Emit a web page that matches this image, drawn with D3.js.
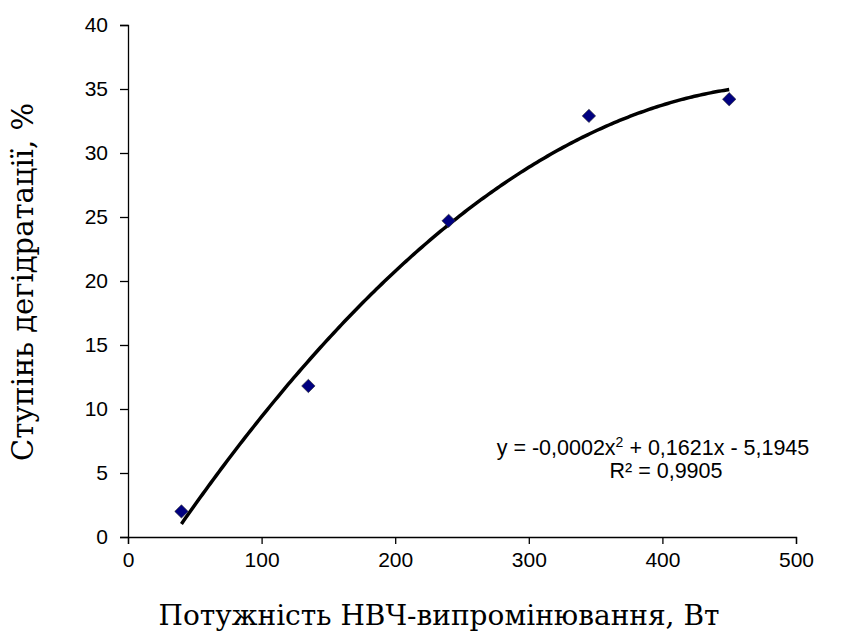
<!DOCTYPE html>
<html>
<head>
<meta charset="utf-8">
<script src="https://cdn.jsdelivr.net/npm/d3@7"></script>
<style>
  body { margin: 0; background: #fff; }
  svg { display: block; }
  .sans { font-family: "Liberation Sans", Arial, sans-serif; }
  .serif { font-family: "DejaVu Serif", serif; }
</style>
</head>
<body>
<div id="chart"></div>
<script>
// measured points
const power = [40, 135, 240, 345, 450];
const dehydration = [2.0, 11.8, 24.7, 32.9, 34.2];
const xTicks = [0, 100, 200, 300, 400, 500];
const yTicks = [0, 5, 10, 15, 20, 25, 30, 35, 40];
const xTitle = "Потужність НВЧ-випромінювання, Вт";
const yTitle = "Ступінь дегідратації, %";
const eqLine = ["y = -0,0002x", "2", " + 0,1621x - 5,1945"];
const r2Line = "R² = 0,9905";

const width = 846, height = 637;
const x = d3.scaleLinear().domain([0, 500]).range([128, 796]);
const y = d3.scaleLinear().domain([0, 40]).range([537, 25]);

// quadratic least squares, same as the excel trendline
function polyFit(xs, ys) {
    const n = xs.length;
    let s = [0, 0, 0, 0, 0], t = [0, 0, 0];
    for (let i = 0; i < n; i++) {
        for (let k = 0; k < 5; k++) s[k] += Math.pow(xs[i], k);
        for (let k = 0; k < 3; k++) t[k] += ys[i] * Math.pow(xs[i], k);
    }
    const m = [[s[0], s[1], s[2], t[0]], [s[1], s[2], s[3], t[1]], [s[2], s[3], s[4], t[2]]];
    for (let c = 0; c < 3; c++) {
        for (let r = c + 1; r < 3; r++) {
            const f = m[r][c] / m[c][c];
            for (let k = c; k < 4; k++) m[r][k] -= f * m[c][k];
        }
    }
    const a = [0, 0, 0];
    for (let r = 2; r >= 0; r--) {
        let v = m[r][3];
        for (let k = r + 1; k < 3; k++) v -= m[r][k] * a[k];
        a[r] = v / m[r][r];
    }
    return a; // c0, c1, c2
}
const coef = polyFit(power, dehydration);
const fit = v => coef[0] + coef[1] * v + coef[2] * v * v;

const svg = d3.select("#chart").append("svg")
    .attr("width", width)
    .attr("height", height);

// axes, ticks all outside
const xAxis = svg.append("g").attr("transform", `translate(0,${y(0)})`);
xAxis.call(d3.axisBottom(x).tickValues(d3.range(0, 501, 20)).tickSize(4).tickFormat(""));
xAxis.call(d3.axisBottom(x).tickValues(xTicks).tickSize(7).tickPadding(8))
    .call(g => g.selectAll("text").attr("class", "sans").attr("font-size", 21).attr("fill", "#000"));

const yAxis = svg.append("g").attr("transform", `translate(${x(0)},0)`);
yAxis.call(d3.axisLeft(y).tickValues(d3.range(0, 41, 1)).tickSize(5).tickFormat(""));
yAxis.call(d3.axisLeft(y).tickValues(yTicks).tickSize(8).tickPadding(12))
    .call(g => g.selectAll("text").attr("class", "sans").attr("font-size", 21).attr("fill", "#000"));

svg.selectAll(".domain").attr("stroke", "#000").attr("stroke-width", 1.3);
svg.selectAll(".tick line").attr("stroke", "#000").attr("stroke-width", 1.3);

// trend line
const xs = d3.range(power[0], power[power.length - 1] + 0.5, 2);
svg.append("path")
    .datum(xs)
    .attr("fill", "none")
    .attr("stroke", "#000")
    .attr("stroke-width", 3.5)
    .attr("d", d3.line().x(d => x(d)).y(d => y(fit(d))));

// points
svg.append("g")
    .selectAll("path")
    .data(power.map((p, i) => [p, dehydration[i]]))
    .join("path")
    .attr("transform", d => `translate(${x(d[0])},${y(d[1])}) rotate(45)`)
    .attr("d", d3.symbol().type(d3.symbolSquare).size(90))
    .attr("fill", "#000080")
    .attr("stroke", "#333")
    .attr("stroke-width", 0.6);

// equation
const eq = svg.append("text")
    .attr("class", "sans")
    .attr("x", 653).attr("y", 455)
    .attr("text-anchor", "middle")
    .attr("font-size", 21.5)
    .attr("fill", "#000");
eq.append("tspan").text(eqLine[0]);
eq.append("tspan").attr("dy", -8).attr("font-size", 14).text(eqLine[1]);
eq.append("tspan").attr("dy", 8).text(eqLine[2]);

svg.append("text")
    .attr("class", "sans")
    .attr("x", 666).attr("y", 478)
    .attr("text-anchor", "middle")
    .attr("font-size", 21.5)
    .attr("fill", "#000")
    .text(r2Line);

// axis titles
svg.append("text")
    .attr("class", "serif")
    .attr("x", 439).attr("y", 625)
    .attr("text-anchor", "middle")
    .attr("font-size", 28)
    .attr("fill", "#000")
    .text(xTitle);

svg.append("text")
    .attr("class", "serif")
    .attr("transform", "translate(33,282) rotate(-90)")
    .attr("text-anchor", "middle")
    .attr("font-size", 29)
    .attr("fill", "#000")
    .text(yTitle);
</script>
</body>
</html>
